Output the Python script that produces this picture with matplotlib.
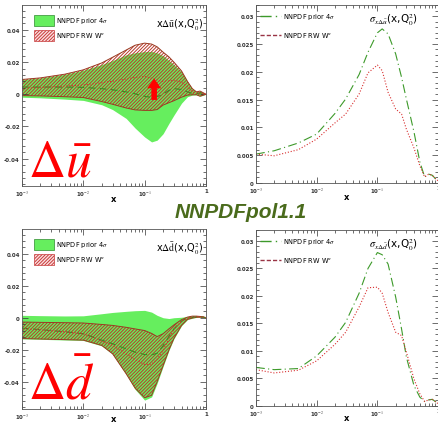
import numpy as np
import matplotlib
matplotlib.use("Agg")
import matplotlib.pyplot as plt
from matplotlib.patches import Patch
from matplotlib.lines import Line2D
from matplotlib.ticker import FixedLocator, FixedFormatter, LogLocator, NullFormatter, AutoMinorLocator

plt.rcParams['mathtext.fontset'] = 'stix'
plt.rcParams['hatch.linewidth'] = 0.7
plt.rcParams['hatch.color'] = '#b83a2a'

# x grid for the left panels (pdf bands)
xb = [1e-3, 2e-3, 5e-3, 1e-2, 2e-2, 3e-2, 5e-2, 7e-2, 0.1, 0.13, 0.16, 0.2, 0.25, 0.3, 0.4, 0.5, 0.6, 0.7, 0.8, 0.9, 1.0]

# x Delta ubar
ub_prior_up = [0.0092, 0.0102, 0.0125, 0.0150, 0.0185, 0.0210, 0.0245, 0.0258, 0.0265, 0.0266, 0.0258, 0.0240, 0.0210, 0.0185, 0.0140, 0.0080, 0.0035, 0.0015, 0.0020, 0.0010, 0.0]
ub_prior_lo = [-0.0018, -0.0022, -0.0030, -0.0038, -0.0065, -0.0095, -0.0150, -0.0210, -0.0265, -0.0296, -0.0285, -0.0245, -0.0180, -0.0130, -0.0055, -0.0015, -0.0005, -0.0003, -0.0012, -0.0006, 0.0]
ub_rw_up = [0.0092, 0.0102, 0.0125, 0.0152, 0.0195, 0.0230, 0.0275, 0.0305, 0.0318, 0.0312, 0.0295, 0.0262, 0.0232, 0.0200, 0.0145, 0.0080, 0.0035, 0.0015, 0.0020, 0.0010, 0.0]
ub_rw_lo = [-0.0008, -0.0010, -0.0015, -0.0020, -0.0045, -0.0062, -0.0085, -0.0097, -0.0100, -0.0100, -0.0095, -0.0067, -0.0052, -0.0040, -0.0018, -0.0005, -0.0003, -0.0003, -0.0012, -0.0006, 0.0]
ub_prior_c = [0.0045, 0.0045, 0.0045, 0.0043, 0.0035, 0.0028, 0.0015, 0.0003, -0.0012, -0.0020, -0.0015, 0.0000, 0.0025, 0.0035, 0.0030, 0.0015, 0.0005, 0.0002, 0.0010, 0.0005, 0.0]
ub_rw_c = [0.0037, 0.0042, 0.0050, 0.0058, 0.0072, 0.0082, 0.0095, 0.0105, 0.0110, 0.0100, 0.0088, 0.0080, 0.0082, 0.0088, 0.0075, 0.0045, 0.0015, 0.0005, 0.0010, 0.0005, 0.0]

# x Delta dbar
db_prior_up = [0.0015, 0.0013, 0.0011, 0.0012, 0.0025, 0.0033, 0.0040, 0.0044, 0.0046, 0.0035, 0.0015, 0.0000, -0.0005, 0.0000, 0.0003, 0.0008, 0.0012, 0.0012, 0.0010, 0.0008, 0.0]
db_prior_lo = [-0.0132, -0.0135, -0.0139, -0.0142, -0.0176, -0.0228, -0.0355, -0.0448, -0.0515, -0.0495, -0.0410, -0.0305, -0.0203, -0.0132, -0.0050, -0.0012, -0.0003, 0.0002, 0.0003, 0.0002, 0.0]
db_rw_up = [-0.0027, -0.0029, -0.0031, -0.0033, -0.0042, -0.0048, -0.0060, -0.0070, -0.0080, -0.0098, -0.0118, -0.0100, -0.0069, -0.0045, -0.0012, 0.0004, 0.0010, 0.0010, 0.0008, 0.0006, 0.0]
db_rw_lo = [-0.0130, -0.0133, -0.0137, -0.0140, -0.0173, -0.0225, -0.0350, -0.0440, -0.0500, -0.0485, -0.0400, -0.0300, -0.0200, -0.0130, -0.0048, -0.0010, -0.0002, 0.0003, 0.0004, 0.0003, 0.0]
db_prior_c = [-0.0065, -0.0075, -0.0088, -0.0100, -0.0140, -0.0162, -0.0195, -0.0215, -0.0230, -0.0232, -0.0222, -0.0175, -0.0115, -0.0070, -0.0020, -0.0005, 0.0002, 0.0005, 0.0005, 0.0003, 0.0]
db_rw_c = [-0.0065, -0.0075, -0.0088, -0.0100, -0.0145, -0.0173, -0.0225, -0.0262, -0.0292, -0.0290, -0.0260, -0.0204, -0.0130, -0.0069, -0.0020, -0.0006, 0.0002, 0.0005, 0.0005, 0.0003, 0.0]

# x grid for the right panels (uncertainties)
xs = [1e-3, 2e-3, 5e-3, 1e-2, 2e-2, 3e-2, 5e-2, 7e-2, 0.1, 0.12, 0.15, 0.2, 0.25, 0.3, 0.4, 0.5, 0.6, 0.7, 0.8, 0.9, 1.0]
sig_ub_prior = [0.0052, 0.0058, 0.0072, 0.0088, 0.0125, 0.0151, 0.0195, 0.0235, 0.0270, 0.0277, 0.0268, 0.0232, 0.0190, 0.0151, 0.0092, 0.0038, 0.0011, 0.0016, 0.0014, 0.0008, 0.0004]
sig_ub_rw = [0.0052, 0.0049, 0.0060, 0.0079, 0.0108, 0.0124, 0.0160, 0.0198, 0.0212, 0.0202, 0.0163, 0.0133, 0.0124, 0.0097, 0.0063, 0.0031, 0.0011, 0.0016, 0.0014, 0.0008, 0.0004]
sig_db_prior = [0.0070, 0.0066, 0.0068, 0.0091, 0.0125, 0.0152, 0.0205, 0.0250, 0.0279, 0.0275, 0.0258, 0.0198, 0.0140, 0.0089, 0.0037, 0.0016, 0.0008, 0.0011, 0.0012, 0.0008, 0.0004]
sig_db_rw = [0.0066, 0.0060, 0.0065, 0.0082, 0.0112, 0.0134, 0.0180, 0.0215, 0.0216, 0.0205, 0.0170, 0.0134, 0.0128, 0.0098, 0.0049, 0.0022, 0.0008, 0.0011, 0.0012, 0.0008, 0.0004]

xtick_vals = [1e-3, 1e-2, 1e-1, 1]
xtick_labels = ['10$^{-3}$', '10$^{-2}$', '10$^{-1}$', '1']
left_yticks = [-0.04, -0.02, 0, 0.02, 0.04]
left_ylabels = ['-0.04', '-0.02', '0', '0.02', '0.04']
right_yticks = [0, 0.005, 0.01, 0.015, 0.02, 0.025, 0.03]
right_ylabels = ['0', '0.005', '0.01', '0.015', '0.02', '0.025', '0.03']

green = '#66ee5e'
lgreen = '#3d8a22'
red = '#d83030'
edge = '#9a3a22'
hatch = '//////////'

fig = plt.figure(figsize=(4.39, 4.27), dpi=100)
ax_ul = fig.add_axes([0.0501, 0.562, 0.419, 0.424])
ax_ur = fig.add_axes([0.583, 0.569, 0.415, 0.417])
ax_dl = fig.add_axes([0.0501, 0.040, 0.419, 0.4215])
ax_dr = fig.add_axes([0.583, 0.047, 0.415, 0.412])


def style(ax, yt, yl, ylim, xlab_y):
    ax.set_xscale('log')
    ax.set_xlim(1e-3, 1)
    ax.set_ylim(*ylim)
    ax.xaxis.set_major_locator(FixedLocator(xtick_vals))
    ax.xaxis.set_major_formatter(FixedFormatter(xtick_labels))
    ax.xaxis.set_minor_locator(LogLocator(base=10, subs=np.arange(2, 10)))
    ax.xaxis.set_minor_formatter(NullFormatter())
    ax.yaxis.set_major_locator(FixedLocator(yt))
    ax.yaxis.set_major_formatter(FixedFormatter(yl))
    ax.yaxis.set_minor_locator(AutoMinorLocator(5))
    ax.tick_params(which='both', direction='in', top=True, right=True, labelsize=4, width=0.5,
                   colors='#333333', pad=1.5)
    ax.tick_params(which='major', length=4)
    ax.tick_params(which='minor', length=2)
    for lab in ax.get_xticklabels() + ax.get_yticklabels():
        lab.set_fontweight('bold')
    for s in ax.spines.values():
        s.set_linewidth(0.6)
        s.set_color('#555555')
    ax.set_xlabel('x', fontsize=6, fontweight='bold')
    ax.xaxis.set_label_coords(0.5, xlab_y)


def band_panel(ax, p_up, p_lo, r_up, r_lo, p_c, r_c, label, big, xlab_y):
    ax.fill_between(xb, p_lo, p_up, color=green, lw=0)
    ax.fill_between(xb, r_lo, r_up, facecolor='none', hatch=hatch, edgecolor='#b83a2a', lw=0)
    ax.plot(xb, r_up, color=edge, lw=0.7)
    ax.plot(xb, r_lo, color=edge, lw=0.7)
    ax.plot(xb, p_c, color=lgreen, lw=0.8, dashes=(6, 4))
    ax.plot(xb, r_c, color=red, lw=0.8, ls=':')
    style(ax, left_yticks, left_ylabels, (-0.057, 0.0555), xlab_y)
    ax.text(0.985, 0.895, label, transform=ax.transAxes, ha='right', va='center', fontsize=7)
    ax.text(0.035, 0.06, big, transform=ax.transAxes, ha='left', va='baseline', fontsize=37, color='red')
    handles = [Patch(facecolor=green, edgecolor='#2f8a2f', lw=0.5),
               Patch(facecolor='#fbe0e0', edgecolor='#c83a3a', hatch=hatch, lw=0.5)]
    ax.legend(handles, ['NNPDF prior 4$\\sigma$', 'NNPDF RW W$^{\\alpha}$'], loc='upper left',
              bbox_to_anchor=(0.03, 0.98), frameon=False, fontsize=4.8,
              handlelength=3.0, handleheight=2.2, labelspacing=0.6, handletextpad=0.4)


def sigma_panel(ax, s_p, s_r, label, xlab_y):
    ax.plot(xs, s_p, color='#3d9a2a', lw=0.8, dashes=(8, 3, 1, 3))
    ax.plot(xs, s_r, color=red, lw=0.8, ls=':')
    style(ax, right_yticks, right_ylabels, (0, 0.032), xlab_y)
    ax.text(0.89, 0.92, label, transform=ax.transAxes, ha='right', va='center', fontsize=7.5)
    handles = [Line2D([], [], color='#3d9a2a', lw=1.0, dashes=(8, 3, 1, 3)),
               Line2D([], [], color='#993344', lw=1.0, dashes=(3, 1.5))]
    ax.legend(handles, ['NNPDF prior 4$\\sigma$', 'NNPDF RW W$^{\\alpha}$'], loc='upper left',
              bbox_to_anchor=(-0.01, 1.0), frameon=False, fontsize=4.8,
              handlelength=3.2, labelspacing=1.4, handletextpad=0.3)


band_panel(ax_ul, ub_prior_up, ub_prior_lo, ub_rw_up, ub_rw_lo, ub_prior_c, ub_rw_c,
           r'x$\Delta\bar{\rm u}$(x,Q$_0^2$)', r'$\Delta\bar{u}$', -0.045)
band_panel(ax_dl, db_prior_up, db_prior_lo, db_rw_up, db_rw_lo, db_prior_c, db_rw_c,
           r'x$\Delta\bar{\rm d}$(x,Q$_0^2$)', r'$\Delta\bar{d}$', -0.03)
sigma_panel(ax_ur, sig_ub_prior, sig_ub_rw, r'$\sigma_{x\Delta\bar{u}}$(x,Q$_0^2$)', -0.05)
sigma_panel(ax_dr, sig_db_prior, sig_db_rw, r'$\sigma_{x\Delta\bar{d}}$(x,Q$_0^2$)', -0.04)

# red arrow in the ubar panel
ax_ul.annotate('', xy=(0.143, 0.0098), xytext=(0.143, -0.0035),
               arrowprops=dict(color='red', width=4, headwidth=10, headlength=7, lw=0))

fig.text(0.549, 0.503, 'NNPDFpol1.1', ha='center', va='center', fontsize=15,
         fontweight='bold', fontstyle='italic', family='Liberation Sans', color='#4a6b1c')

fig.savefig('out.png', dpi=100)
